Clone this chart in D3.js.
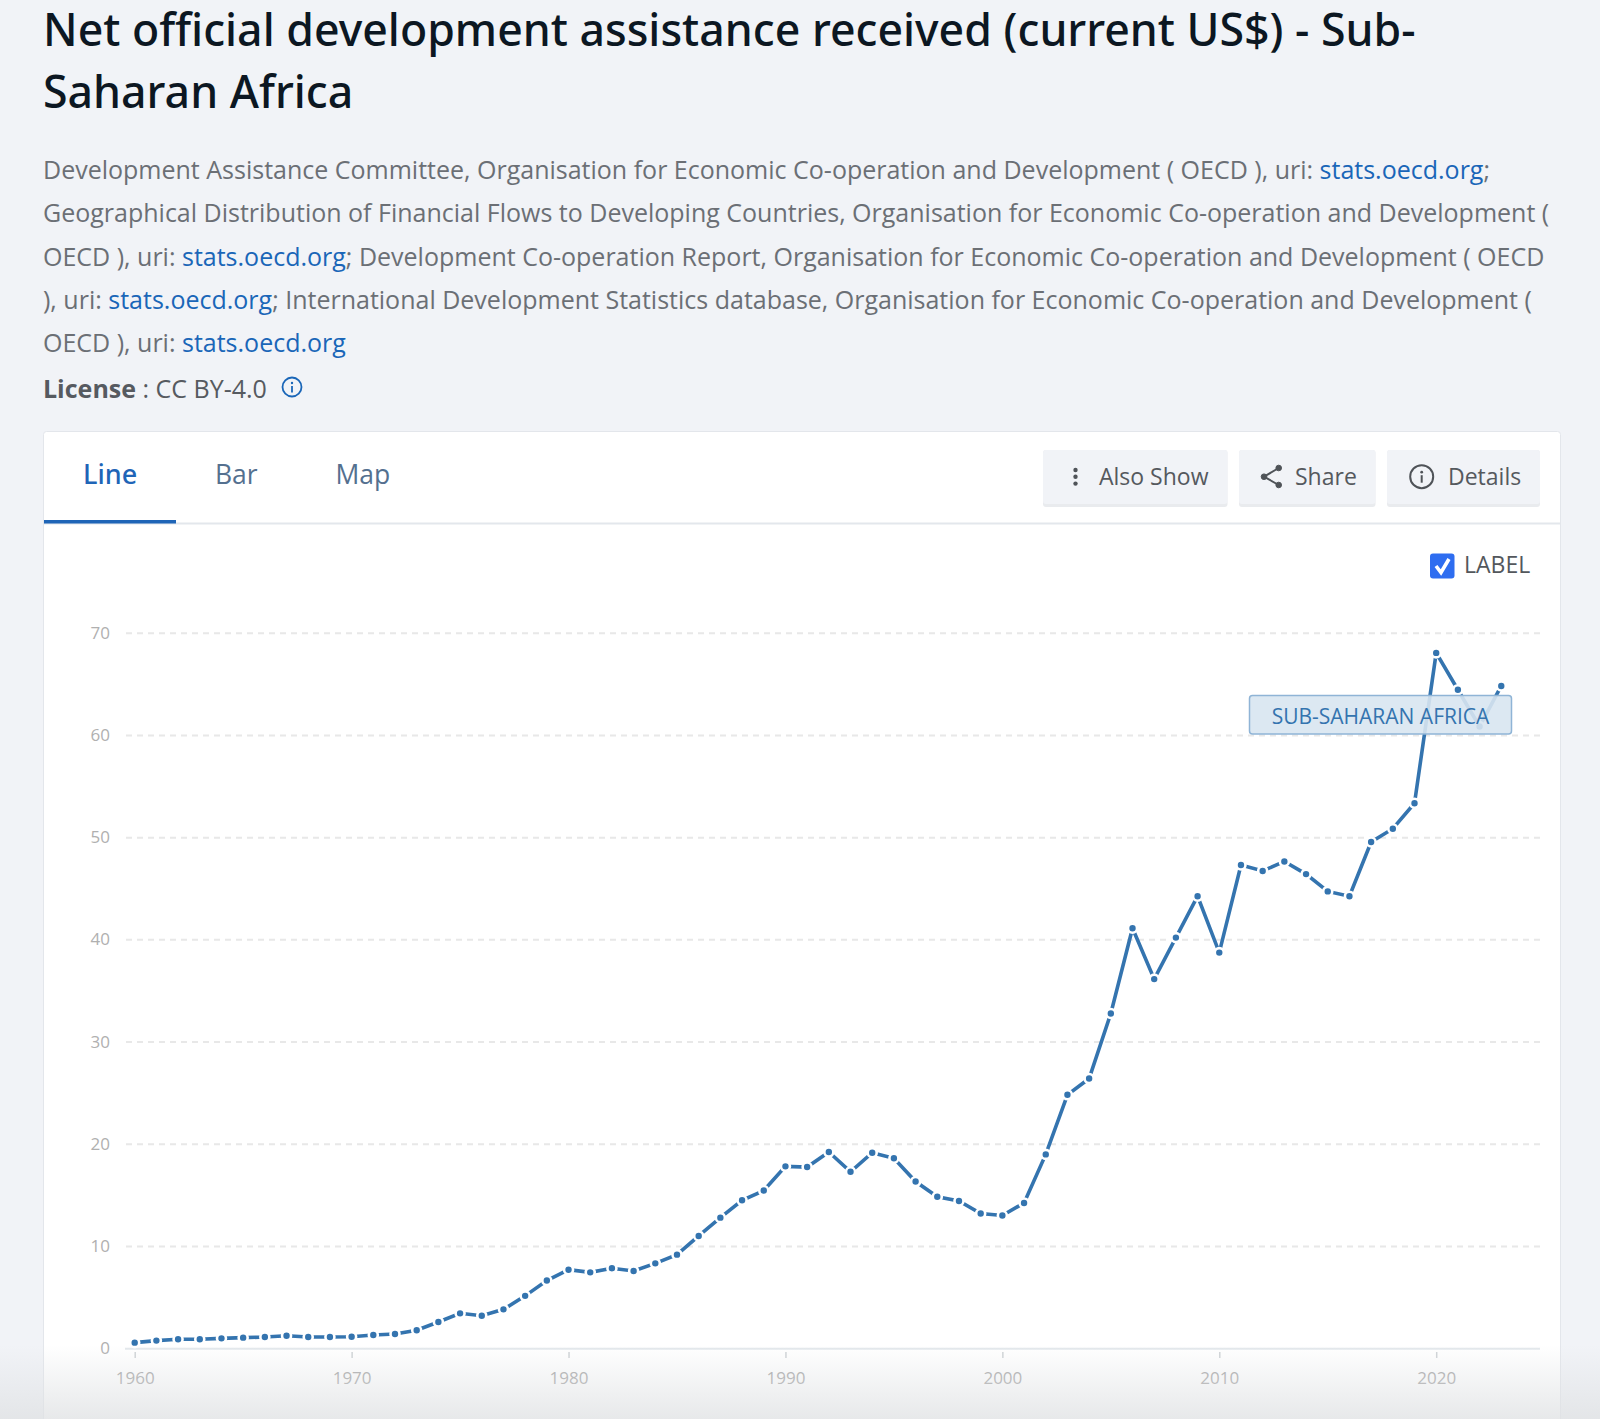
<!DOCTYPE html>
<html>
<head>
  <meta charset="utf-8">
  <script src="https://d3js.org/d3.v7.min.js"></script>
  <style>
    html, body { margin: 0; padding: 0; background: #f1f3f7; overflow: hidden; }
    svg { display: block; font-family: "Open Sans", "Noto Sans", sans-serif; }
    .grid .tick line { stroke: #e8e8e8; stroke-width: 2; stroke-dasharray: 6 5; }
    .grid .domain { display: none; }
    .grid text { fill: #b0b0b0; font-size: 17px; font-family: "Open Sans", sans-serif; }
    .xaxis .domain { display: none; }
    .xaxis .tick line { stroke: #cfd3d6; stroke-width: 1.5; }
    .xaxis text { fill: #a8a8a8; font-size: 17px; font-family: "Open Sans", sans-serif; }
  </style>
</head>
<body>
<script type="text/javascript">

  // values, billions of US$
  var years = [1960,1961,1962,1963,1964,1965,1966,1967,1968,1969,
               1970,1971,1972,1973,1974,1975,1976,1977,1978,1979,
               1980,1981,1982,1983,1984,1985,1986,1987,1988,1989,
               1990,1991,1992,1993,1994,1995,1996,1997,1998,1999,
               2000,2001,2002,2003,2004,2005,2006,2007,2008,2009,
               2010,2011,2012,2013,2014,2015,2016,2017,2018,2019,
               2020,2021,2022,2023];
  var assistance = [0.62,0.82,0.95,0.95,1.04,1.11,1.17,1.30,1.17,1.17,
                    1.20,1.37,1.47,1.83,2.64,3.49,3.26,3.88,5.20,6.70,
                    7.76,7.50,7.90,7.63,8.38,9.23,11.06,12.85,14.55,15.50,
                    17.87,17.80,19.27,17.34,19.20,18.66,16.38,14.90,14.48,13.25,
                    13.06,14.29,19.04,24.87,26.46,32.83,41.17,36.19,40.25,44.30,
                    38.78,47.35,46.77,47.70,46.46,44.77,44.30,49.60,50.90,53.40,
                    68.10,64.50,60.90,64.87];
  var xTicks = [1960,1970,1980,1990,2000,2010,2020];
  var yTicks = [0,10,20,30,40,50,60,70];

  var titleLines = ["Net official development assistance received (current US$) - Sub-", "Saharan Africa"];
  // each source line is a list of [text, isLink]
  var sourceLines = [
    [["Development Assistance Committee, Organisation for Economic Co-operation and Development ( OECD ), uri: ",0],["stats.oecd.org",1],[";",0]],
    [["Geographical Distribution of Financial Flows to Developing Countries, Organisation for Economic Co-operation and Development (",0]],
    [["OECD ), uri: ",0],["stats.oecd.org",1],["; Development Co-operation Report, Organisation for Economic Co-operation and Development ( OECD",0]],
    [["), uri: ",0],["stats.oecd.org",1],["; International Development Statistics database, Organisation for Economic Co-operation and Development (",0]],
    [["OECD ), uri: ",0],["stats.oecd.org",1]]
  ];
  var tabs = ["Line","Bar","Map"];
  var seriesLabel = "SUB-SAHARAN AFRICA";

  var svg = d3.select("body").append("svg")
      .attr("width", 1600)
      .attr("height", 1419);

  var defs = svg.append("defs");
  var fade = defs.append("linearGradient").attr("id", "fade")
      .attr("x1", 0).attr("y1", 0).attr("x2", 0).attr("y2", 1);
  fade.append("stop").attr("offset", "0%").attr("stop-color", "#dfe1e3").attr("stop-opacity", 0);
  fade.append("stop").attr("offset", "100%").attr("stop-color", "#dfe1e3").attr("stop-opacity", 0.75);

  // page header
  svg.selectAll("text.title")
      .data(titleLines)
      .enter().append("text")
      .attr("class", "title")
      .attr("x", 43)
      .attr("y", function (d, i) { return 46 + i * 61.5; })
      .attr("fill", "#0c1722")
      .attr("font-family", "'Noto Sans', sans-serif")
      .attr("font-size", 44.65)
      .attr("font-weight", 500)
      .text(function (d) { return d; });

  var source = svg.selectAll("text.source")
      .data(sourceLines)
      .enter().append("text")
      .attr("class", "source")
      .attr("x", 43)
      .attr("y", function (d, i) { return 179 + i * 43.3; })
      .attr("font-size", 25)
      .attr("fill", "#6b6f75");
  source.selectAll("tspan")
      .data(function (d) { return d; })
      .enter().append("tspan")
      .attr("fill", function (d) { return d[1] ? "#1a66b8" : "#6b6f75"; })
      .text(function (d) { return d[0]; });

  var license = svg.append("text")
      .attr("x", 43).attr("y", 398)
      .attr("font-size", 25)
      .attr("fill", "#565a60");
  license.append("tspan").attr("font-weight", 700).text("License");
  license.append("tspan").text(" : CC BY-4.0");

  var infoIcon = svg.append("g").attr("transform", "translate(292,387)");
  infoIcon.append("circle").attr("r", 9.5).attr("fill", "none").attr("stroke", "#1a66b8").attr("stroke-width", 1.8);
  infoIcon.append("circle").attr("cy", -4).attr("r", 1.2).attr("fill", "#1a66b8");
  infoIcon.append("rect").attr("x", -0.9).attr("y", -1).attr("width", 1.8).attr("height", 6.5).attr("fill", "#1a66b8");

  // card
  svg.append("rect")
      .attr("x", 43.5).attr("y", 431.5)
      .attr("width", 1517).attr("height", 1000)
      .attr("rx", 3)
      .attr("fill", "#fff")
      .attr("stroke", "#e3e6eb");
  svg.append("line")
      .attr("x1", 44).attr("x2", 1560)
      .attr("y1", 523.5).attr("y2", 523.5)
      .attr("stroke", "#e3e7ec").attr("stroke-width", 2);
  svg.append("rect")
      .attr("x", 44).attr("y", 520)
      .attr("width", 132).attr("height", 3.5)
      .attr("fill", "#1f65b7");

  var tabX = [83, 215, 335.5];
  svg.selectAll("text.tab")
      .data(tabs)
      .enter().append("text")
      .attr("class", "tab")
      .attr("x", function (d, i) { return tabX[i]; })
      .attr("y", 484)
      .attr("font-family", function (d, i) { return i == 0 ? "'Noto Sans', sans-serif" : null; })
      .attr("font-size", function (d, i) { return i == 0 ? 27 : 26.5; })
      .attr("font-weight", function (d, i) { return i == 0 ? 500 : 400; })
      .attr("fill", function (d, i) { return i == 0 ? "#1f65b7" : "#54708f"; })
      .text(function (d) { return d; });

  // buttons
  var buttons = [
    {label: "Also Show", x: 1043, w: 184.5, tx: 1099},
    {label: "Share", x: 1239, w: 136.5, tx: 1295},
    {label: "Details", x: 1387, w: 153, tx: 1448}
  ];
  var button = svg.selectAll("g.button")
      .data(buttons)
      .enter().append("g")
      .attr("class", "button");
  button.append("rect")
      .attr("x", function (d) { return d.x; })
      .attr("y", 450)
      .attr("width", function (d) { return d.w; })
      .attr("height", 57)
      .attr("rx", 3)
      .attr("fill", "#e9ebee");
  button.append("rect")
      .attr("x", function (d) { return d.x; })
      .attr("y", 450)
      .attr("width", function (d) { return d.w; })
      .attr("height", 54)
      .attr("rx", 3)
      .attr("fill", "#f1f3f7");
  button.append("text")
      .attr("x", function (d) { return d.tx; })
      .attr("y", 485)
      .attr("font-size", 23)
      .attr("fill", "#55595e")
      .text(function (d) { return d.label; });

  // three dots
  d3.range(3).forEach(function (i) {
    svg.append("circle").attr("cx", 1075.5).attr("cy", 470 + i * 6.8).attr("r", 2.2).attr("fill", "#4f5358");
  });
  // share icon
  var share = svg.append("g").attr("stroke", "#4f5358").attr("fill", "#4f5358");
  share.append("path").attr("d", "M1278.7 468 L1264 476.7 L1278.7 485").attr("fill", "none").attr("stroke-width", 2);
  share.append("circle").attr("cx", 1278.7).attr("cy", 468).attr("r", 2.8);
  share.append("circle").attr("cx", 1264).attr("cy", 476.7).attr("r", 2.8);
  share.append("circle").attr("cx", 1278.7).attr("cy", 485).attr("r", 2.8);
  // details icon
  var det = svg.append("g").attr("transform", "translate(1421.7,476.7)");
  det.append("circle").attr("r", 11.5).attr("fill", "none").attr("stroke", "#4f5358").attr("stroke-width", 2);
  det.append("circle").attr("cy", -4.5).attr("r", 1.4).attr("fill", "#4f5358");
  det.append("rect").attr("x", -1).attr("y", -1.5).attr("width", 2).attr("height", 7.5).attr("fill", "#4f5358");

  // label checkbox
  svg.append("rect")
      .attr("x", 1430).attr("y", 553.5)
      .attr("width", 24.5).attr("height", 25)
      .attr("rx", 3)
      .attr("fill", "#2e6df0");
  svg.append("path")
      .attr("d", "M1436 566 L1441 572.5 L1449 559")
      .attr("fill", "none").attr("stroke", "#fff").attr("stroke-width", 3.6);
  svg.append("text")
      .attr("x", 1464).attr("y", 573)
      .attr("font-size", 23)
      .attr("fill", "#53575c")
      .text("LABEL");

  // chart
  var x = d3.scaleLinear().domain([1960, 2020]).range([134.7, 1436.2]);
  var y = d3.scaleLinear().domain([0, 70]).range([1349, 633.5]);

  var grid = svg.append("g")
      .attr("class", "grid")
      .attr("transform", "translate(1540,-0.8)")
      .call(d3.axisLeft(y).tickValues(yTicks).tickSize(1415).tickPadding(15));
  grid.selectAll(".tick")
      .filter(function (d) { return d == 0; })
      .select("line")
      .style("stroke", "#e3e8ec")
      .style("stroke-dasharray", "none");

  svg.append("g")
      .attr("class", "xaxis")
      .attr("transform", "translate(0,1352)")
      .call(d3.axisBottom(x).tickValues(xTicks).tickFormat(d3.format("d")).tickSize(6).tickPadding(14));

  var points = years.map(function (d, i) { return {year: d, value: assistance[i]}; });

  var line = d3.line()
      .x(function (d) { return x(d.year); })
      .y(function (d) { return y(d.value); });

  svg.append("path")
      .datum(points)
      .attr("d", line)
      .attr("fill", "none")
      .attr("stroke", "#3474af")
      .attr("stroke-width", 3.6);

  svg.selectAll("circle.dot")
      .data(points)
      .enter().append("circle")
      .attr("class", "dot")
      .attr("cx", function (d) { return x(d.year); })
      .attr("cy", function (d) { return y(d.value); })
      .attr("r", 4.5)
      .attr("fill", "#3474af")
      .attr("stroke", "#fff")
      .attr("stroke-width", 2.6);

  // series label sits on top of the line
  svg.append("rect")
      .attr("x", 1249.5).attr("y", 695.5)
      .attr("width", 262).attr("height", 38.5)
      .attr("rx", 3)
      .attr("fill", "#d8e5f1")
      .attr("fill-opacity", 0.9)
      .attr("stroke", "#8fb4d6")
      .attr("stroke-width", 1.5);
  svg.append("text")
      .attr("x", 1380.5).attr("y", 724)
      .attr("text-anchor", "middle")
      .attr("font-size", 21)
      .attr("fill", "#3474af")
      .text(seriesLabel);

  // bottom fade of the page
  svg.append("rect")
      .attr("x", 0).attr("y", 1345)
      .attr("width", 1600).attr("height", 74)
      .attr("fill", "url(#fade)");

</script>
</body>
</html>
